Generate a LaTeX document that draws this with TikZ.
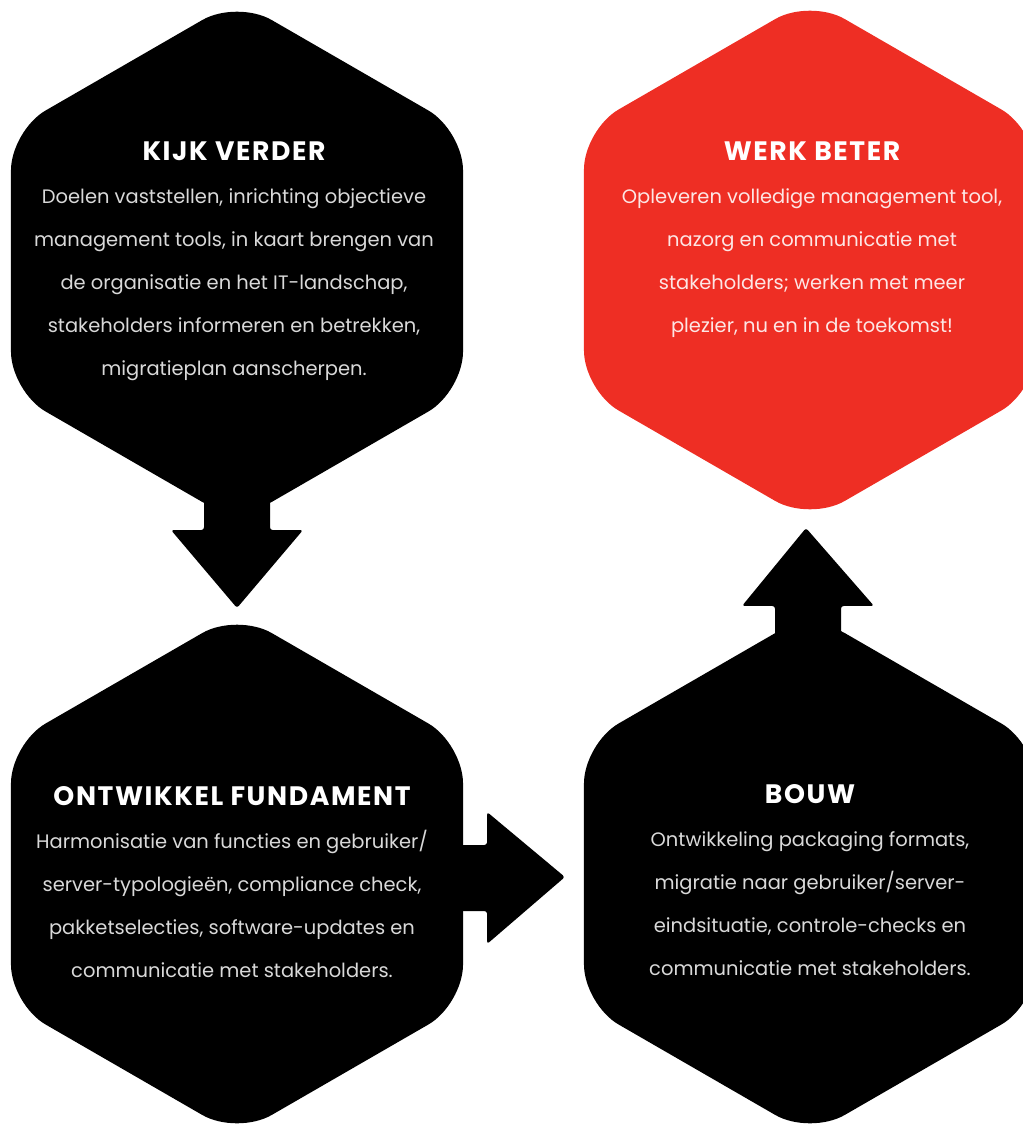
\documentclass[tikz,border=0pt]{standalone}
\usepackage{fontspec}
\setmainfont{Poppins}
\usetikzlibrary{shapes.geometric,calc}
\definecolor{werkred}{HTML}{EE2E24}

\begin{document}
\begin{tikzpicture}[x=0.75pt, y=-0.75pt,
    hexagon/.style={regular polygon, regular polygon sides=6, shape border rotate=30,
        minimum size=391.5pt, inner sep=0pt, outer sep=0pt, rounded corners=30pt},
    heading/.style={anchor=base, text=white,
        font=\fontsize{20}{24}\selectfont\bfseries\addfontfeatures{LetterSpace=6}},
    body/.style={anchor=base, text=white!85!black, font=\fontsize{14.6}{18}\selectfont}]
    \useasboundingbox (0,0) rectangle (1023,1124);

    % Draw the hexagons
    \node[hexagon, fill=black] (kijk) at (237,261) {};
    \node[hexagon, fill=werkred] (werk) at (810,260) {};
    \node[hexagon, fill=black] (fund) at (237,874) {};
    \node[hexagon, fill=black] (bouw) at (810,874) {};

    % Draw the block arrows between the hexagons
    \fill[rounded corners=2pt] ($(kijk.south)+(-33,-50)$) -- ($(kijk.south)+(-33,8)$)
        -- ($(kijk.south)+(-66,8)$) -- ($(fund.north)+(0,-5)$) -- ($(kijk.south)+(66,8)$)
        -- ($(kijk.south)+(33,8)$) -- ($(kijk.south)+(33,-50)$) -- cycle;
    \fill[rounded corners=2pt] ($(fund.east)+(-40,-29)$) -- ($(fund.east)+(24,-29)$)
        -- ($(fund.east)+(24,-62)$) -- ($(bouw.west)+(-19,3)$) -- ($(fund.east)+(24,70)$)
        -- ($(fund.east)+(24,37)$) -- ($(fund.east)+(-40,37)$) -- cycle;
    \fill[rounded corners=2pt] ($(bouw.north)+(-35,60)$) -- ($(bouw.north)+(-35,-7)$)
        -- ($(bouw.north)+(-68,-7)$) -- ($(werk.south)+(-4,7)$) -- ($(bouw.north)+(64,-7)$)
        -- ($(bouw.north)+(31,-7)$) -- ($(bouw.north)+(31,60)$) -- cycle;

    % Headings
    \node[heading] (kijkhead) at ($(kijk.center)+(-3,-101)$) {KIJK VERDER};
    \node[heading] (werkhead) at ($(werk.center)+(2,-100)$) {WERK BETER};
    \node[heading] (fundhead) at ($(fund.center)+(-5,-69)$) {ONTWIKKEL FUNDAMENT};
    \node[heading] (bouwhead) at ($(bouw.center)+(0,-71)$) {BOUW};

    % Body lines
    \foreach \txt [count=\i] in {{Doelen vaststellen, inrichting objectieve},
        {management tools, in kaart brengen van}, {de organisatie en het IT-landschap,},
        {stakeholders informeren en betrekken,}, {migratieplan aanscherpen.}}
        \node[body] (kijk\i) at ($(kijk.center)+(-3,-101+43*\i)$) {\txt};
    \foreach \txt [count=\i] in {{Opleveren volledige management tool,},
        {nazorg en communicatie met}, {stakeholders; werken met meer},
        {plezier, nu en in de toekomst!}}
        \node[body, text=white!88!werkred] (werk\i) at ($(werk.center)+(2,-100+43*\i)$) {\txt};
    \foreach \txt [count=\i] in {{Harmonisatie van functies en gebruiker/},
        {server-typologieën, compliance check,}, {pakketselecties, software-updates en},
        {communicatie met stakeholders.}}
        \node[body] (fund\i) at ($(fund.center)+(-5,-69+43*\i)$) {\txt};
    \foreach \txt [count=\i] in {{Ontwikkeling packaging formats,},
        {migratie naar gebruiker/server-}, {eindsituatie, controle-checks en},
        {communicatie met stakeholders.}}
        \node[body] (bouw\i) at ($(bouw.center)+(0,-71+43*\i)$) {\txt};

\end{tikzpicture}
\end{document}
